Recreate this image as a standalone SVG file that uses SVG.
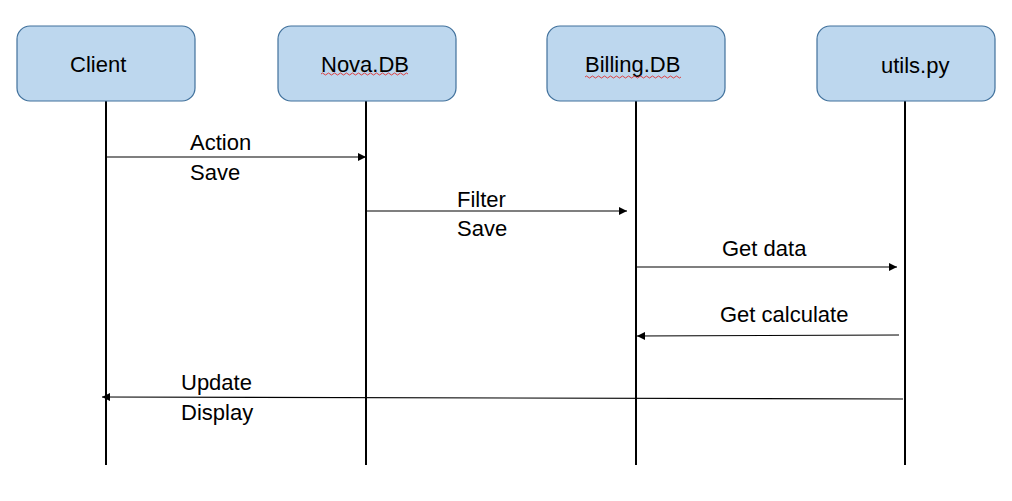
<svg xmlns="http://www.w3.org/2000/svg" width="1012" height="501" viewBox="0 0 1012 501">
<style>
.box{fill:#BDD7EE;stroke:#41719C;stroke-width:1.2}
.t{font-family:"Liberation Sans",Arial,sans-serif;font-size:22px;fill:#000}
.life{stroke:#000;stroke-width:2}
.msg{stroke:#000;stroke-width:1.2;fill:none}
.sq{stroke:#E03030;stroke-width:0.9;fill:none}
</style>
<defs>
<marker id="ah" viewBox="0 0 10 10" refX="10" refY="5" markerWidth="9" markerHeight="8" markerUnits="userSpaceOnUse" orient="auto">
<path d="M0,0 L10,5 L0,10 Z" fill="#000"/>
</marker>
</defs>
<rect width="1012" height="501" fill="#fff"/>
<g id="lifelines">
<line class="life" x1="106" y1="101" x2="106" y2="465"/>
<line class="life" x1="366" y1="101" x2="366" y2="465"/>
<line class="life" x1="636" y1="101" x2="636" y2="465"/>
<line class="life" x1="905" y1="101" x2="905" y2="465"/>
</g>
<g id="client">
<rect class="box" x="17" y="26" width="178" height="75" rx="13"/>
<text class="t" x="70" y="72">Client</text>
</g>
<g id="nova">
<rect class="box" x="278" y="26" width="178" height="75" rx="13"/>
<text class="t" x="321" y="72">Nova.DB</text>
<path class="sq" d="M321,74 q1.5,-2 3,0 t3,0 t3,0 t3,0 t3,0 t3,0 t3,0 t3,0 t3,0 t3,0 t3,0 t3,0 t3,0 t3,0 t3,0 t3,0 t3,0 t3,0 t3,0 t3,0 t3,0 t3,0 t3,0 t3,0 t3,0 t3,0 t3,0 t3,0 t3,0"/>
</g>
<g id="billing">
<rect class="box" x="547" y="26" width="178" height="75" rx="13"/>
<text class="t" x="585" y="72">Billing.DB</text>
<path class="sq" d="M585,77 q1.5,-2 3,0 t3,0 t3,0 t3,0 t3,0 t3,0 t3,0 t3,0 t3,0 t3,0 t3,0 t3,0 t3,0 t3,0 t3,0 t3,0 t3,0 t3,0 t3,0 t3,0 t3,0 t3,0 t3,0 t3,0 t3,0 t3,0 t3,0 t3,0 t3,0 t3,0 t3,0 t3,0"/>
</g>
<g id="utils">
<rect class="box" x="817" y="26" width="178" height="75" rx="13"/>
<text class="t" x="881" y="73">utils.py</text>
</g>
<g id="connectors">
<line class="msg" x1="106" y1="157" x2="366" y2="157" marker-end="url(#ah)"/>
<line class="msg" x1="366" y1="211" x2="627" y2="211" marker-end="url(#ah)"/>
<line class="msg" x1="636" y1="267" x2="897" y2="267" marker-end="url(#ah)"/>
<line class="msg" x1="899" y1="335" x2="637" y2="336" marker-end="url(#ah)"/>
<line class="msg" x1="903" y1="399" x2="102" y2="397" marker-end="url(#ah)"/>
</g>
<g id="labels">
<text class="t" x="190" y="150">Action</text>
<text class="t" x="190" y="180">Save</text>
<text class="t" x="457" y="207">Filter</text>
<text class="t" x="457" y="236">Save</text>
<text class="t" x="722" y="256">Get data</text>
<text class="t" x="720" y="322">Get calculate</text>
<text class="t" x="181" y="390">Update</text>
<text class="t" x="181" y="420">Display</text>
</g>
</svg>
